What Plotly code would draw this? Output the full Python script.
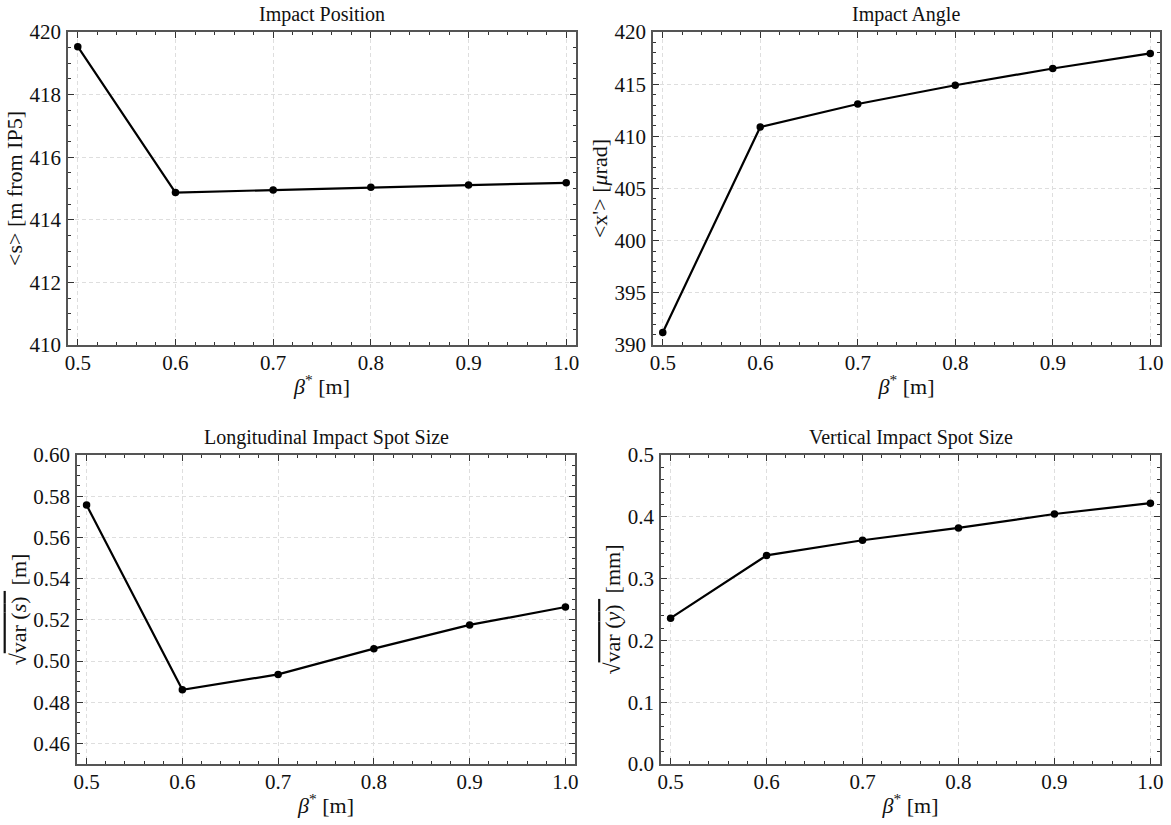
import plotly.graph_objects as go

# beta* scan values [m]
beta_star = [0.5, 0.6, 0.7, 0.8, 0.9, 1.0]

# mean impact position <s> [m from IP5]
impact_position = [419.53, 414.87, 414.95, 415.04, 415.11, 415.18]
# mean impact angle <x'> [urad]
impact_angle = [391.2, 410.9, 413.1, 414.9, 416.5, 417.95]
# longitudinal spot size sqrt(var(s)) [m]
long_spot = [0.5757, 0.4860, 0.4935, 0.5060, 0.5175, 0.5262]
# vertical spot size sqrt(var(y)) [mm]
vert_spot = [0.2360, 0.3375, 0.3620, 0.3820, 0.4045, 0.4220]

titles = ["Impact Position", "Impact Angle",
          "Longitudinal Impact Spot Size", "Vertical Impact Spot Size"]
ylabels = [
    "&lt;s&gt; [m from IP5]",
    "&lt;x'&gt; [<i>μ</i>rad]",
    "√<span style='text-decoration:overline'>var (<i>s</i>) </span> [m]",
    "√<span style='text-decoration:overline'>var (<i>y</i>) </span> [mm]",
]
xlabel = "<i>β</i><sup>*</sup> [m]"

W, H = 1171, 825
FONT = "Liberation Serif"

# plot-area boxes in pixels: (left, right, top, bottom)
boxes = [(68, 576, 32, 345), (653, 1160, 32, 345),
         (77, 575, 455, 764), (661, 1160, 455, 764)]

yranges = [[410, 420], [390, 420], [0.45, 0.60], [0.0, 0.5]]
ydticks = [2, 5, 0.02, 0.1]
yminor = [0.5, 1, 0.005, 0.02]
yformats = ["d", "d", ".2f", ".1f"]
series = [impact_position, impact_angle, long_spot, vert_spot]

fig = go.Figure()
layout = dict(
    width=W, height=H,
    margin=dict(l=0, r=0, t=0, b=0, autoexpand=False),
    paper_bgcolor="white", plot_bgcolor="white",
    showlegend=False,
    font=dict(family=FONT, size=21, color="#111111"),
    annotations=[],
)

axis_common = dict(
    showline=True, linecolor="#555555", linewidth=1.5, mirror="allticks",
    ticks="inside", ticklen=6, tickwidth=1.2, tickcolor="#333333",
    showgrid=True, gridcolor="#dedede", griddash="4px,3px", gridwidth=1,
    zeroline=False, automargin=False,
    tickfont=dict(family=FONT, size=21),
)

for i, (l, r, t, b) in enumerate(boxes):
    n = "" if i == 0 else str(i + 1)
    xd = [l / W, r / W]
    yd = [1 - b / H, 1 - t / H]
    fig.add_trace(go.Scatter(
        x=beta_star, y=series[i], mode="lines+markers",
        line=dict(color="black", width=2.2),
        marker=dict(color="black", size=7.5),
        xaxis="x" + n, yaxis="y" + n,
    ))
    layout["xaxis" + n] = dict(
        axis_common, domain=xd, anchor="y" + n, range=[0.49, 1.01],
        tick0=0.5, dtick=0.1, tickformat=".1f", ticklabelstandoff=-2,
        minor=dict(ticks="inside", ticklen=3, dtick=0.02, tick0=0.5,
                   tickcolor="#333333", showgrid=False),
        title=dict(text=xlabel, font=dict(family=FONT, size=22), standoff=5),
    )
    layout["yaxis" + n] = dict(
        axis_common, domain=yd, anchor="x" + n, range=yranges[i],
        tick0=0, dtick=ydticks[i], tickformat=yformats[i], ticklabelstandoff=1,
        minor=dict(ticks="inside", ticklen=3, dtick=yminor[i], tick0=0,
                   tickcolor="#333333", showgrid=False),
        title=dict(text=ylabels[i], font=dict(family=FONT, size=22), standoff=1),
    )
    layout["annotations"].append(dict(
        text=titles[i], x=(xd[0] + xd[1]) / 2, y=yd[1], xref="paper", yref="paper",
        xanchor="center", yanchor="bottom", yshift=4, showarrow=False,
        font=dict(family=FONT, size=20, color="#111111"),
    ))

fig.update_layout(**layout)
fig.write_html("out.html")
